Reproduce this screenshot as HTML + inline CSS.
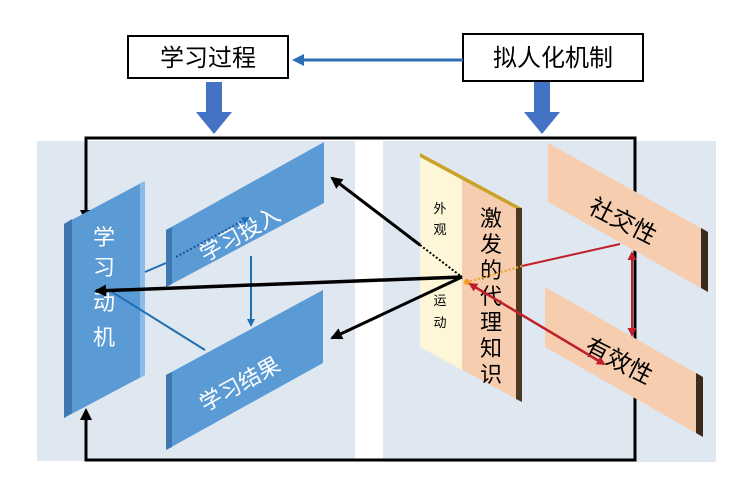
<!DOCTYPE html>
<html><head><meta charset="utf-8"><style>
html,body{margin:0;padding:0;background:#fff;}
svg{display:block;}
text{font-family:"Liberation Sans","Noto Sans CJK SC",sans-serif;}
</style></head><body>
<svg width="731" height="497" viewBox="0 0 731 497" xmlns="http://www.w3.org/2000/svg">
<defs>
<marker id="ab" markerWidth="8" markerHeight="8" refX="6" refY="4" orient="auto" markerUnits="userSpaceOnUse"><path d="M0,0 L8,4 L0,8 Z" fill="#000"/></marker>
<marker id="abk" markerWidth="12" markerHeight="12" refX="10" refY="6" orient="auto" markerUnits="userSpaceOnUse"><path d="M0,0 L12,6 L0,12 Z" fill="#000"/></marker>
<marker id="abl" markerWidth="8" markerHeight="8" refX="6" refY="4" orient="auto" markerUnits="userSpaceOnUse"><path d="M0,0 L8,4 L0,8 Z" fill="#1f6fb5"/></marker>
<marker id="ar" markerWidth="9" markerHeight="9" refX="7" refY="4.5" orient="auto-start-reverse" markerUnits="userSpaceOnUse"><path d="M0,0 L9,4.5 L0,9 Z" fill="#c0202a"/></marker>
<marker id="abl2" markerWidth="12" markerHeight="12" refX="6" refY="6" orient="auto" markerUnits="userSpaceOnUse"><path d="M0,0 L12,6 L0,12 Z" fill="#2e6db3"/></marker>
</defs>
<rect x="37" y="141" width="318" height="320" fill="#dfe7f0"/>
<rect x="383" y="141" width="333" height="321" fill="#dfe7f0"/>
<!-- top boxes -->
<rect x="128" y="36" width="160" height="42" fill="#fff" stroke="#000" stroke-width="2"/>
<text x="208" y="66" font-size="24" text-anchor="middle">学习过程</text>
<rect x="463" y="34" width="180" height="47" fill="#fff" stroke="#000" stroke-width="2"/>
<text x="553" y="66" font-size="24" text-anchor="middle">拟人化机制</text>
<line x1="463" y1="60" x2="298" y2="60" stroke="#2e6db3" stroke-width="3" marker-end="url(#abl2)"/>
<path d="M206,82 h16 v30 h10 l-18,22 l-18,-22 h10 z" fill="#4472c4"/>
<path d="M534,82 h16 v30 h10 l-18,22 l-18,-22 h10 z" fill="#4472c4"/>
<!-- black frame -->
<path d="M86,210 V138 H635 V460 H86 V412" fill="none" stroke="#000" stroke-width="3"/>
<path d="M86,222 l-6,-12 h12 z"/>
<path d="M86,408 l-6,12 h12 z"/>
<!-- 学习动机 -->
<polygon points="64,224 145,181 145,375 64,418" fill="#5b9bd5"/>
<polygon points="64,224 72,219 72,413 64,418" fill="#3f78b0"/>
<polygon points="140,184 145,181 145,375 140,378" fill="#8bbbe6"/>
<text font-size="22" fill="#fff" text-anchor="middle"><tspan x="104" y="245">学</tspan><tspan x="104" y="275">习</tspan><tspan x="104" y="310">动</tspan><tspan x="104" y="345">机</tspan></text>
<!-- 学习投入 -->
<polygon points="166,230 324,142 324,203 166,287" fill="#5b9bd5"/>
<polygon points="166,230 172,227 172,284 166,287" fill="#3f78b0"/>
<text x="0" y="0" font-size="22" fill="#fff" transform="translate(205,262) rotate(-29)">学习投入</text>
<!-- 学习结果 -->
<polygon points="166,375 323,290 323,363 166,450" fill="#5b9bd5"/>
<polygon points="166,375 172,372 172,447 166,450" fill="#3f78b0"/>
<text font-size="22" fill="#fff" transform="translate(205,412) rotate(-29)">学习结果</text>
<!-- blue connectors -->
<line x1="145" y1="272" x2="166" y2="263" stroke="#1f6fb5" stroke-width="2"/>
<line x1="112" y1="292" x2="205" y2="350" stroke="#1f6fb5" stroke-width="2"/>
<line x1="176" y1="257" x2="248" y2="218" stroke="#1f4f9e" stroke-width="2" stroke-dasharray="2,2" marker-end="url(#abl)"/>
<line x1="251" y1="256" x2="251" y2="325" stroke="#1f6fb5" stroke-width="2" marker-end="url(#abl)"/>
<!-- 代理知识 panel -->
<polygon points="420,153 522,208 522,402 420,347" fill="#f7cdb0"/>
<polygon points="420,153 462,176 462,370 420,347" fill="#fdf6d8"/>
<polygon points="420,153 522,208 522,212 420,157" fill="#c9a227"/>
<polygon points="516,208 522,208 522,402 516,399" fill="#4a3a20"/>
<text font-size="13" text-anchor="middle"><tspan x="440" y="213">外</tspan><tspan x="440" y="234">观</tspan><tspan x="440" y="305">运</tspan><tspan x="440" y="327">动</tspan></text>
<text font-size="22" text-anchor="middle"><tspan x="491" y="226">激</tspan><tspan x="491" y="252">发</tspan><tspan x="491" y="278">的</tspan><tspan x="491" y="304">代</tspan><tspan x="491" y="330">理</tspan><tspan x="491" y="356">知</tspan><tspan x="491" y="382">识</tspan></text>
<!-- 社交性 / 有效性 -->
<polygon points="548,143 708,232 708,292 548,202" fill="#f7cdb0"/>
<polygon points="701,228 708,232 708,292 701,288" fill="#3a2a20"/>
<text font-size="24" transform="translate(587,212) rotate(27)">社交性</text>
<polygon points="545,287 703,377 703,437 545,347" fill="#f7cdb0"/>
<polygon points="696,373 703,377 703,437 696,433" fill="#3a2a20"/>
<text font-size="24" transform="translate(583,352) rotate(27)">有效性</text>
<!-- black arrows -->
<line x1="420" y1="245" x2="462" y2="277" stroke="#000" stroke-width="2" stroke-dasharray="2,2"/>
<line x1="420" y1="245" x2="332" y2="178" stroke="#000" stroke-width="3" marker-end="url(#abk)"/>
<line x1="462" y1="277" x2="96" y2="291" stroke="#000" stroke-width="3.5" marker-end="url(#abk)"/>
<line x1="462" y1="277" x2="332" y2="338" stroke="#000" stroke-width="3" marker-end="url(#abk)"/>
<!-- red -->
<line x1="620" y1="244" x2="522" y2="266" stroke="#c0202a" stroke-width="2"/>
<line x1="522" y1="266" x2="468" y2="282" stroke="#f0a020" stroke-width="2" stroke-dasharray="2,2"/>
<circle cx="467" cy="282" r="3" fill="#f0a020"/>
<line x1="470" y1="284" x2="604" y2="364" stroke="#c0202a" stroke-width="2.5" marker-start="url(#ar)" marker-end="url(#ar)"/>
<line x1="632" y1="253" x2="632" y2="335" stroke="#c0202a" stroke-width="2" marker-start="url(#ar)" marker-end="url(#ar)"/>
</svg>
</body></html>
